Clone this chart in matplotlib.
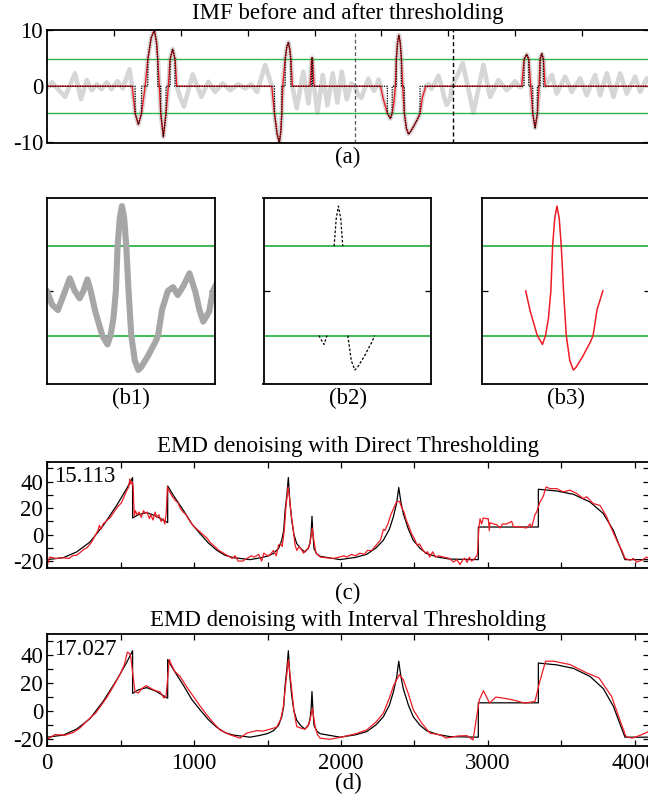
import numpy as np
import matplotlib
matplotlib.use("Agg")
import matplotlib.pyplot as plt

plt.rcParams['font.family'] = ['Liberation Serif', 'DejaVu Serif']
plt.rcParams['axes.unicode_minus'] = False

# ---------------- data: panel (a) IMF ----------------
imf_u = [0, 7, 26.5, 41.5, 50.4, 59, 66.5, 74, 81, 89, 96, 105, 113, 123, 127,
         131.5, 136.3, 141, 146.5, 150.5, 155.5, 160.2, 163.5, 165.3, 167.7, 169.8, 173.7, 177.7,
         181.2, 183.8, 187.7, 191.2, 193.7,
         199, 204.6, 217.6, 230.6, 241, 251, 262.5, 273.5, 286, 296, 305, 314, 326, 336,
         340, 344, 347.4, 349.5, 351, 352.4, 356, 358.5, 360.9, 363, 364.5, 366.8,
         373.3, 383.3, 390.8, 393.3, 395.6, 396.3, 397.0, 399.3,
         404.3, 412.3, 419.2, 427.2, 434.2, 440.7, 448.2, 454.7, 460.5, 465, 470.1, 480.5,
         484.8, 489.1, 492.5, 495.9, 498.8,
         502.8, 509.0, 513.5, 516.2, 518.7, 520.9, 522.4, 524.3, 526.2, 528.2, 530.0, 532,
         534.4, 537.5, 540.6, 543, 546, 549, 552.4, 555.5, 557.9, 561.4, 566.5,
         571, 575.1, 580, 585.4, 590.6, 594, 597.5, 600, 602.7, 606, 614, 621.8, 637.8,
         652.8, 662.7, 675.2, 687.7, 694, 700, 705.5, 708, 710.2,
         713.6, 717.6, 720.6, 723.6, 726.6, 730.1, 733.6, 736.1, 737.6, 740.1, 742.6, 745.1,
         755.1, 762.5, 775, 785, 797.5, 807.5, 820, 827.4, 837.4, 847.4, 857.4, 867.3,
         879.8, 887.3, 897.3, 900]
imf_v = [-0.3, 0.7, -1.9, 2.3, -2.3, 1.1, -0.7, 0.35, -0.5, 0.7, -0.5, 0.9, -0.4, 3.0, 0,
         -4.8, -6.8, -4.8, 0, 4.8, 8.6, 10.0, 7.8, 4.8, 0, -4.8, -9.0, -4.8,
         0, 4.8, 6.6, 4.8, 0,
         -2.0, -3.6, 2.1, -1.9, 0.8, -1.0, 0.5, -0.7, 0.35, -0.4, 0.3, -1.0, 3.8, 0,
         -4.8, -8.5, -10.0, -8.0, -4.8, 0, 4.8, 7.0, 7.8, 6.5, 4.8, 0,
         -3.9, 2.6, -3.05, 0, 4.8, 5.1, 4.8, 0,
         -4.7, 2.0, -3.4, 2.3, -2.9, 2.6, -2.3, 0.5, 0.0, -1.5, -2.06, 1.34,
         0, -0.8, 0, 1.23, 0,
         -2.2, -4.8, -5.75, -4.8, -3.0, 0, 4.8, 7.8, 9.1, 7.8, 4.8, 0,
         -4.8, -7.5, -8.5, -8.2, -7.6, -7.0, -6.2, -5.5, -4.8, -2.0, 0,
         0.4, -0.45, 0.5, 1.88, -0.1, -2.0, -3.3, -2.8, -2.2, 0, 2.0, 4.1, -4.7,
         3.8, -1.9, 1.1, -0.7, 0, 0.9, 0, -0.2, 0,
         4.8, 5.66, 4.8, 0, -4.8, -7.4, -4.8, 0, 4.8, 5.8, 4.8, 0,
         2.0, -1.3, 1.7, -1.0, 1.4, -1.6, 2.0, -1.6, 2.3, -1.9, 2.3, -1.3,
         1.7, -1.0, 1.4, 0.8]
threshold = 4.8
kept_intervals = [(127, 193.7), (336, 366.8), (393.3, 399.3), (498.8, 566.5), (710.2, 745.1)]
window = (460.5, 607.8)

# ---------------- data: panels (c), (d) ----------------
sig_s = [0, 109, 200, 291, 382, 473, 541, 581, 581, 620, 677, 740, 820, 820, 858, 927, 983,
         1040, 1097, 1154, 1210, 1267, 1381, 1449, 1500, 1540, 1575, 1597, 1610, 1620, 1632,
         1642, 1652, 1665, 1680, 1699, 1730, 1755, 1780, 1790, 1797, 1803, 1809, 1817, 1835,
         1858, 1994, 2100, 2176, 2240, 2289, 2330, 2357, 2380, 2394, 2408, 2425, 2460, 2493,
         2540, 2584, 2660, 2743, 2936, 2936, 3345, 3345, 3470, 3583, 3697, 3788, 3856, 3901,
         3935, 4096]
sig_v = [-18.9, -17.4, -13.1, -5.6, 7.0, 22.1, 34.7, 43.0, 12.5, 15.0, 16.6, 14.0, 9.0, 36.7,
         29.7, 18.3, 8.3, 0.75, -6.3, -11.8, -15.6, -17.4, -18.9, -17.6, -16.3, -14.3, -10.5,
         -4.3, 3.0, 18.3, 30.0, 43.0, 25.0, 10.8, 0.0, -6.8, -11.0, -13.1, -10.0, -5.6, 1.0,
         13.8, 1.0, -10.6, -14.5, -16.4, -18.9, -17.2, -14.9, -10.0, -4.3, 4.0, 13.3, 24.0,
         35.5, 25.0, 15.8, 4.0, -4.3, -10.5, -14.3, -17.0, -18.5, -18.9, 5.7, 5.7, 34.2, 32.9,
         30.4, 24.6, 15.8, 3.2, -9.4, -18.9, -18.9]

direct_s = [0, 15, 60, 110, 150, 170, 200, 230, 250, 270, 300, 330, 345, 355, 365, 380, 400,
            430, 460, 480, 505, 525, 540, 555, 562, 570, 578, 585, 592, 600, 612, 625, 640,
            655, 668, 680, 695, 705, 720, 735, 745, 760, 775, 790, 800, 810, 818, 830, 850,
            870, 890, 905, 925, 945, 960, 985, 1000, 1030, 1060, 1090, 1110, 1140, 1170,
            1200, 1230, 1260, 1280, 1300, 1330, 1360, 1390, 1410, 1440, 1460, 1475, 1500,
            1520, 1540, 1560, 1575, 1590, 1600, 1615, 1625, 1640, 1650, 1660, 1675, 1688,
            1700, 1715, 1730, 1745, 1760, 1775, 1790, 1805, 1815, 1830, 1860, 1900, 1950,
            1990, 2020, 2040, 2070, 2100, 2130, 2160, 2180, 2210, 2240, 2270, 2290, 2300,
            2320, 2340, 2360, 2380, 2400, 2415, 2430, 2445, 2460, 2480, 2500, 2520, 2535,
            2555, 2575, 2590, 2605, 2625, 2645, 2665, 2700, 2740, 2766, 2790, 2811, 2830,
            2845, 2860, 2875, 2890, 2913, 2930, 2940, 2948, 2959, 2970, 2990, 3004, 3011,
            3015, 3040, 3061, 3084, 3100, 3130, 3163, 3175, 3200, 3220, 3265, 3288, 3300,
            3322, 3333, 3356, 3379, 3397, 3424, 3470, 3515, 3560, 3606, 3651, 3674, 3719,
            3765, 3811, 3833, 3879, 3913, 3936, 3970, 3992, 4015, 4049, 4083, 4096]
direct_v = [-23, -17, -18, -17.5, -18, -16, -15.5, -13, -11, -10, -6, 0, 3, 7, 4, 8, 10,
            13, 18, 21, 24, 29, 33, 36, 42, 38, 40, 36, 14, 18, 15, 17, 13,
            18, 16, 17, 12, 15, 11, 17, 13, 15, 10, 12, 8, 16, 36, 33, 29,
            26, 24, 20, 17, 15, 12, 8, 6, 3, 0, -3, -6, -9, -12,
            -14, -16, -18, -16, -20, -20, -18, -16, -17, -15, -20, -14, -16,
            -15, -12, -16, -8, -7, -9, 4, 20, 36, 28, 16, 4, -8,
            -12, -9, -11, -14, -12, -11, -6, 5, -4, -14, -17, -17.5, -18,
            -17, -16, -17, -15, -16, -14, -15, -12, -12, -8, -4, 4, 3,
            8, 15, 20, 25, 25, 20, 17, 11, 7, 1, -3, -8, -7,
            -11, -14, -13, -17, -13, -17, -16, -17, -18, -20.7, -19, -22.6, -19,
            -18, -21, -17, -20, -18, -15, 5, 12, 8, 12.6, 12, 12, 3,
            9, 8, 7.5, 5, 8, 8, 10, 6, 6, 5.7, 5, 8, 5.6,
            15, 17, 24.5, 29, 35.9, 34.7, 34.7, 32.2, 33.5, 31, 27.2, 28.5, 23.4,
            22, 13.3, 7, -4.3, -11.8, -18, -19.4, -18, -20.7, -19.4, -17, -18]

interval_s = [0, 52, 120, 177, 220, 268, 330, 405, 450, 495, 525, 545, 560, 568, 597, 620,
              645, 672, 700, 722, 750, 768, 795, 809, 831, 845, 870, 904, 950, 995, 1040,
              1086, 1130, 1176, 1240, 1313, 1358, 1426, 1470, 1517, 1563, 1590, 1608, 1625,
              1642, 1665, 1680, 1699, 1730, 1755, 1775, 1790, 1806, 1824, 1840, 1858, 1926,
              2017, 2100, 2176, 2240, 2289, 2330, 2357, 2398, 2425, 2460, 2493, 2550, 2607,
              2680, 2716, 2800, 2859, 2900, 2943, 2971, 3013, 3055, 3110, 3168, 3253, 3322,
              3352, 3394, 3450, 3561, 3620, 3675, 3759, 3800, 3844, 3900, 3942, 3984, 4040,
              4096]
interval_v = [-20.4, -17.0, -17.5, -15.5, -12.5, -7.5, -1.5, 9.5, 17.5, 26, 33, 42, 41, 39,
              13.9, 12.7, 16, 18, 16.5, 15.1, 14, 13.5, 9.1, 10.5, 36.7, 33, 28, 24.7, 17,
              10.3, 3.5, -2.9, -8.5, -13.7, -17, -19.6, -16.0, -14.2, -14.5, -13.2, -11.7,
              -6, 3.1, 20, 36.7, 15.1, 0, -11.3, -12.5, -13.2, -11, -6.5, 1.9, -11.3, -17,
              -19.6, -20.4, -18.5, -16.5, -13.7, -8, -1.7, 9, 17.5, 25.9, 22.3, 12, 0.7,
              -8.8, -16, -17.3, -19.6, -18, -17.8, -20.9, 7.9, 14.4, 5.5, 9.8, 9, 7.9, 5.5,
              6.7, 19.9, 35.5, 35.5, 33.1, 30, 27.1, 23.5, 17, 10.3, -6.5, -18.5, -19.6,
              -17.5, -14.9]

snr_direct = "15.113"
snr_interval = "17.027"

# ---------------- derived series ----------------
imf_u = np.array(imf_u, float)
imf_v = np.array(imf_v, float)
mask = np.zeros_like(imf_u, bool)
for a, b in kept_intervals:
    mask |= (imf_u >= a - 1e-9) & (imf_u <= b + 1e-9)
red_a = np.where(mask, imf_v, 0.0)
red_b = np.where(mask, imf_v, np.nan)


def hard_threshold(u, v, T, fill):
    keep = np.abs(v) >= T - 1e-9
    ou, ov = [], []
    n = len(u)
    for i in range(n):
        if keep[i]:
            if i == 0 or not keep[i - 1]:
                ou.append(u[i]); ov.append(fill)
            ou.append(u[i]); ov.append(v[i])
            if i == n - 1 or not keep[i + 1]:
                ou.append(u[i]); ov.append(fill)
        else:
            ou.append(u[i]); ov.append(fill)
    return np.array(ou), np.array(ov)


hu, hv = hard_threshold(imf_u, imf_v, threshold, 0.0)
hbu, hbv = hard_threshold(imf_u, imf_v, threshold, np.nan)

# ---------------- figure ----------------
W, H = 648, 794
fig = plt.figure(figsize=(W / 100, H / 100), dpi=100)


def ax_px(left, top, right, bottom):
    return fig.add_axes([left / W, 1 - bottom / H, (right - left) / W, (bottom - top) / H])


FS = 16.5
GREEN = '#2fb34a'
RED = '#ee1c25'


def style(ax, pad=3):
    ax.tick_params(direction='in', top=True, right=True, length=4, width=0.9,
                   labelsize=FS, pad=pad)
    for s in ax.spines.values():
        s.set_linewidth(1.3)


# (a)
axa = ax_px(47.3, 30, 648.6, 142.5)
axa.plot(imf_u, imf_v, color='#d6d6d6', lw=3.3, solid_joinstyle='round', solid_capstyle='round')
for t in (threshold, -threshold):
    axa.axhline(t, color=GREEN, lw=1.0)
axa.plot(imf_u, red_a, color=RED, lw=1.0)
axa.plot(hu, hv, color='black', lw=0.9, ls=(0, (1, 1)))
axa.axvline(window[0], color='#555555', lw=0.9, ls=(0, (3, 2)))
axa.axvline(window[1], color='black', lw=1.0, ls=(0, (3, 2)))
axa.set_xlim(0, 900)
axa.set_ylim(-10, 10)
axa.set_xticks(np.arange(100, 900, 100))
axa.set_xticklabels([])
axa.set_yticks([-10, 0, 10])
style(axa)
axa.tick_params(axis='x', bottom=False)
fig.text(348 / W, 1 - 13 / H, "IMF before and after thresholding", ha='center', va='center', fontsize=FS)
fig.text(348 / W, 1 - 157 / H, "(a)", ha='center', va='center', fontsize=FS)

# (b)
b_lefts = [47, 263.5, 482]
b_labels = ["(b1)", "(b2)", "(b3)"]
axes_b = []
for L in b_lefts:
    ax = ax_px(L, 197.7, L + 168, 384)
    ax.set_xlim(*window)
    ax.set_ylim(-10, 10)
    ax.set_xticks([])
    ax.set_yticks([0])
    ax.set_yticklabels([])
    style(ax)
    for t in (threshold, -threshold):
        ax.axhline(t, color=GREEN, lw=1.3)
    axes_b.append(ax)
axes_b[0].plot(imf_u, imf_v, color='#a6a6a6', lw=4.4, solid_joinstyle='round', solid_capstyle='round')
axes_b[1].plot(hbu, hbv, color='black', lw=0.9, ls=(0, (2, 1.5)))
axes_b[2].plot(imf_u, red_b, color=RED, lw=1.1)
for L, lab in zip(b_lefts, b_labels):
    fig.text((L + 84) / W, 1 - 398 / H, lab, ha='center', va='center', fontsize=FS)

# (c)
axc = ax_px(47.3, 461.7, 648.6, 567.7)
axc.plot(sig_s, sig_v, color='black', lw=0.9)
axc.plot(direct_s, direct_v, color=RED, lw=0.9)
axc.set_xlim(0, 4096)
axc.set_ylim(-25, 55)
axc.set_xticks(np.arange(0, 4097, 500))
axc.set_xticklabels([])
yt = np.arange(-20, 51, 10)
axc.set_yticks(yt)
axc.set_yticklabels([str(v) if v % 20 == 0 and v < 50 else '' for v in yt])
style(axc)
axc.text(0.012, 0.86, snr_direct, transform=axc.transAxes, fontsize=FS, va='center', ha='left')
fig.text(348 / W, 1 - 446.7 / H, "EMD denoising with Direct Thresholding", ha='center', va='center', fontsize=FS)
fig.text(348 / W, 1 - 593 / H, "(c)", ha='center', va='center', fontsize=FS)

# (d)
axd = ax_px(47.3, 634, 648.6, 745.7)
axd.plot(sig_s, sig_v, color='black', lw=0.9)
axd.plot(interval_s, interval_v, color=RED, lw=0.9)
axd.set_xlim(0, 4096)
axd.set_ylim(-25, 55)
xt = np.arange(0, 4097, 500)
axd.set_xticks(xt)
axd.set_xticklabels([str(v) if v % 1000 == 0 else '' for v in xt])
axd.set_yticks(yt)
axd.set_yticklabels([str(v) if v % 20 == 0 and v < 50 else '' for v in yt])
style(axd)
axd.tick_params(axis='x', pad=5)
axd.text(0.012, 0.86, snr_interval, transform=axd.transAxes, fontsize=FS, va='center', ha='left')
fig.text(348 / W, 1 - 620.7 / H, "EMD denoising with Interval Thresholding", ha='center', va='center', fontsize=FS)
fig.text(348 / W, 1 - 783 / H, "(d)", ha='center', va='center', fontsize=FS)

fig.savefig("out.png", dpi=100)
